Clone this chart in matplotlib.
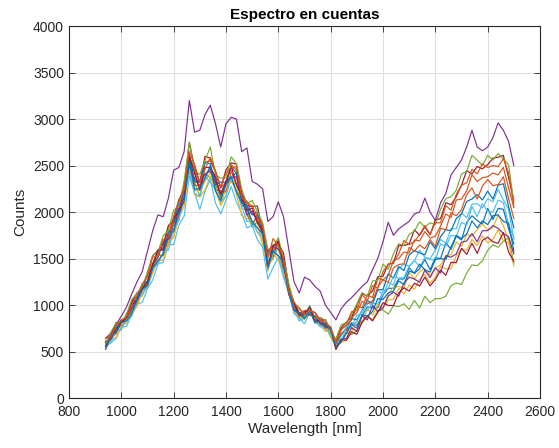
import matplotlib
matplotlib.use("Agg")
import matplotlib.pyplot as plt
from cycler import cycler

# wavelength grid shared by all spectra (nm)
wavelength = list(range(940, 2501, 20))

s01 = [594, 647, 756, 780, 862, 933, 1068, 1210, 1231, 1410, 1570, 1620, 1650, 1880, 2030, 2190, 2570, 2340, 2290, 2390,
       2470, 2360, 2150, 2340, 2380, 2420, 2070, 2050, 1860, 1970, 1790, 1480, 1520, 1700, 1380,
       1172, 994, 874, 876, 938, 874, 812, 806, 700,
       582, 608, 713, 810, 780, 880, 980, 970, 970, 1110, 1180, 1180, 1280, 1280, 1400, 1340, 1390, 1490, 1380, 1510,
       1500, 1670, 1600, 1740, 1700, 1890, 1960, 1910, 1870, 2040, 1920, 2040, 2030, 1820, 1660]
s02 = [570, 689, 766, 768, 902, 1021, 1094, 1170, 1329, 1415, 1590, 1615, 1840, 1900, 2030, 2310, 2610, 2440, 2250, 2540,
       2550, 2430, 2260, 2320, 2510, 2450, 2130, 2120, 1980, 1940, 1870, 1510, 1650, 1630, 1500,
       1144, 1030, 913, 942, 942, 850, 864, 806, 698,
       632, 741, 784, 840, 990, 970, 1110, 1080, 1290, 1270, 1320, 1480, 1500, 1570, 1560, 1700, 1690, 1790, 1720, 1740,
       1850, 1980, 1940, 2130, 2140, 2230, 2400, 2330, 2370, 2380, 2420, 2400, 2480, 2260, 2050]
s03 = [536, 648, 687, 806, 799, 930, 1064, 1095, 1242, 1340, 1545, 1530, 1690, 1725, 1970, 2185, 2470, 2230, 2240, 2330,
       2425, 2270, 2095, 2240, 2330, 2300, 2035, 2020, 1840, 1880, 1640, 1455, 1580, 1530, 1380,
       1172, 948, 849, 871, 955, 821, 823, 747, 746,
       524, 610, 714, 710, 820, 810, 960, 890, 1010, 960, 1120, 1190, 1200, 1180, 1350, 1280, 1360, 1390, 1320, 1400,
       1430, 1530, 1540, 1680, 1630, 1760, 1740, 1810, 1870, 1810, 1830, 1970, 1850, 1700, 1560]
s04 = [640, 700, 790, 880, 980, 1120, 1250, 1360, 1580, 1800, 1970, 1950, 2150, 2450, 2480, 2650, 3200, 2860, 2880, 3050,
       3150, 2950, 2700, 2950, 3020, 3000, 2650, 2690, 2330, 2300, 2250, 1900, 1950, 2110, 1950,
       1600, 1250, 1130, 1300, 1270, 1200, 1150, 1000, 920,
       840, 960, 1030, 1080, 1140, 1200, 1250, 1380, 1500, 1680, 1890, 1750, 1820, 1860, 1900, 1980, 2000, 2150, 2000, 1910,
       2100, 2200, 2400, 2480, 2560, 2700, 2880, 2700, 2660, 2700, 2800, 2960, 2880, 2760, 2500]
s05 = [600, 628, 727, 733, 869, 934, 1092, 1117, 1215, 1380, 1540, 1530, 1725, 1790, 1920, 2220, 2500, 2320, 2170, 2410,
       2370, 2300, 2160, 2320, 2340, 2230, 2130, 1990, 1840, 1900, 1780, 1430, 1500, 1630, 1370,
       1148, 924, 916, 860, 896, 870, 788, 772, 658,
       564, 594, 702, 682, 725, 807, 885, 838, 941, 946, 902, 992, 983, 1014, 952, 1051, 968, 1095, 1026, 1069,
       1069, 1095, 1208, 1237, 1221, 1344, 1432, 1423, 1475, 1588, 1649, 1621, 1688, 1722, 1450]
s06 = [565, 594, 640, 761, 772, 892, 1009, 1029, 1176, 1270, 1440, 1460, 1650, 1650, 1860, 1955, 2385, 2210, 2030, 2225,
       2350, 2095, 1980, 2125, 2275, 2105, 1990, 1830, 1855, 1705, 1620, 1280, 1405, 1510, 1295,
       1122, 906, 866, 798, 918, 860, 784, 720, 726,
       572, 667, 764, 764, 890, 900, 1025, 1000, 1170, 1100, 1245, 1215, 1390, 1440, 1415, 1475, 1590, 1515, 1500, 1590,
       1705, 1665, 1820, 1820, 1990, 1940, 2085, 2090, 2045, 2145, 2110, 2245, 2130, 2030, 1710]
s07 = [640, 668, 812, 812, 875, 1034, 1131, 1178, 1347, 1530, 1585, 1650, 1855, 1915, 2130, 2250, 2750, 2470, 2320, 2600,
       2580, 2435, 2260, 2455, 2530, 2515, 2205, 2070, 2060, 2065, 1790, 1575, 1640, 1660, 1560,
       1194, 1032, 906, 928, 934, 920, 838, 842, 722,
       600, 754, 816, 868, 1000, 1120, 1100, 1150, 1305, 1310, 1440, 1450, 1640, 1640, 1655, 1810, 1750, 1840, 1755, 1915,
       1930, 2100, 2080, 2165, 2290, 2445, 2410, 2490, 2465, 2510, 2580, 2590, 2610, 2370, 2130]
s08 = [578, 629, 751, 835, 851, 998, 1072, 1221, 1259, 1430, 1590, 1600, 1785, 1865, 2110, 2205, 2620, 2325, 2325, 2530,
       2520, 2295, 2325, 2315, 2490, 2415, 2115, 2070, 1970, 2000, 1765, 1560, 1560, 1675, 1390,
       1183, 1020, 886, 884, 992, 858, 794, 796, 760,
       576, 688, 742, 856, 840, 945, 1050, 1015, 1165, 1165, 1335, 1290, 1415, 1370, 1540, 1585, 1560, 1540, 1680, 1605,
       1735, 1810, 1800, 1930, 1980, 2115, 2140, 2190, 2130, 2225, 2140, 2290, 2305, 2060, 1830]
s09 = [611, 645, 696, 810, 838, 962, 1018, 1174, 1249, 1455, 1475, 1555, 1725, 1880, 1920, 2210, 2515, 2285, 2290, 2395,
       2475, 2235, 2230, 2215, 2445, 2285, 2180, 1970, 1880, 1940, 1750, 1385, 1585, 1665, 1405,
       1110, 994, 872, 888, 894, 886, 810, 746, 745,
       598, 692, 733, 864, 915, 1040, 1010, 1045, 1190, 1270, 1245, 1400, 1435, 1445, 1620, 1580, 1645, 1605, 1705, 1630,
       1825, 1810, 1995, 1960, 2025, 2190, 2260, 2140, 2280, 2350, 2285, 2295, 2380, 2145, 1930]
s10 = [526, 626, 653, 768, 845, 904, 985, 1136, 1187, 1350, 1485, 1480, 1655, 1740, 1940, 2060, 2490, 2185, 2160, 2240,
       2385, 2235, 2070, 2175, 2370, 2195, 1965, 1930, 1900, 1785, 1700, 1365, 1560, 1480, 1360,
       1134, 920, 882, 843, 952, 811, 806, 718, 718,
       570, 599, 620, 756, 725, 830, 875, 835, 940, 965, 1055, 1060, 1180, 1120, 1215, 1170, 1275, 1330, 1235, 1300,
       1415, 1390, 1390, 1530, 1605, 1590, 1705, 1640, 1745, 1670, 1705, 1810, 1690, 1670, 1420]
s11 = [603, 628, 711, 821, 864, 967, 1056, 1168, 1244, 1440, 1510, 1680, 1710, 1790, 2050, 2200, 2500, 2360, 2320, 2410,
       2440, 2330, 2200, 2320, 2370, 2380, 2140, 1970, 2010, 1890, 1790, 1390, 1630, 1600, 1510,
       1122, 960, 901, 915, 899, 883, 803, 761, 751,
       549, 632, 641, 758, 715, 885, 840, 995, 930, 970, 1095, 1140, 1095, 1235, 1300, 1280, 1245, 1375, 1295, 1400,
       1345, 1530, 1515, 1550, 1675, 1690, 1770, 1680, 1800, 1800, 1855, 1825, 1770, 1735, 1550]
s12 = [573, 708, 805, 811, 904, 1062, 1123, 1194, 1351, 1535, 1570, 1745, 1805, 2020, 2060, 2330, 2755, 2440, 2405, 2555,
       2700, 2400, 2365, 2370, 2595, 2520, 2250, 2090, 2125, 2005, 1885, 1600, 1615, 1725, 1495,
       1234, 1012, 976, 885, 987, 853, 868, 835, 721,
       634, 787, 813, 899, 1010, 1135, 1095, 1260, 1265, 1440, 1385, 1555, 1660, 1640, 1760, 1795, 1895, 1840, 1885, 1865,
       2030, 2145, 2165, 2235, 2410, 2440, 2610, 2560, 2500, 2610, 2560, 2630, 2570, 2510, 2100]
s13 = [549, 595, 724, 742, 843, 884, 1061, 1115, 1196, 1395, 1440, 1575, 1590, 1815, 1910, 2180, 2430, 2205, 2170, 2385,
       2320, 2240, 2110, 2170, 2385, 2225, 2065, 1900, 1900, 1785, 1740, 1390, 1585, 1525, 1325,
       1134, 951, 828, 862, 946, 824, 765, 779, 682,
       593, 609, 766, 785, 820, 945, 940, 1020, 1010, 1150, 1180, 1310, 1290, 1295, 1420, 1480, 1410, 1510, 1490, 1480,
       1660, 1630, 1750, 1740, 1890, 1860, 2060, 1950, 2090, 2010, 2000, 2130, 2100, 1870, 1720]
s14 = [554, 656, 728, 819, 857, 1001, 1055, 1177, 1248, 1440, 1590, 1590, 1740, 1935, 2005, 2155, 2600, 2420, 2235, 2480,
       2480, 2380, 2185, 2320, 2490, 2300, 2175, 2015, 2045, 1895, 1790, 1415, 1630, 1685, 1440,
       1130, 1021, 887, 902, 974, 829, 831, 778, 749,
       522, 631, 620, 712, 685, 815, 885, 830, 920, 1025, 995, 995, 1130, 1185, 1150, 1235, 1205, 1300, 1205, 1275,
       1375, 1320, 1460, 1455, 1610, 1545, 1665, 1555, 1695, 1730, 1680, 1665, 1780, 1570, 1470]
s15 = [523, 664, 709, 817, 827, 910, 1056, 1165, 1209, 1400, 1470, 1550, 1755, 1805, 1980, 2115, 2540, 2245, 2255, 2360,
       2500, 2225, 2125, 2295, 2380, 2215, 2105, 2040, 1900, 1830, 1765, 1410, 1580, 1530, 1460,
       1135, 941, 915, 853, 937, 808, 829, 764, 752,
       547, 605, 696, 795, 750, 895, 880, 930, 1070, 1060, 1130, 1150, 1260, 1220, 1365, 1345, 1440, 1380, 1355, 1490,
       1500, 1490, 1625, 1750, 1715, 1765, 1905, 1830, 1905, 1865, 1960, 1970, 1900, 1880, 1580]
s16 = [641, 657, 772, 844, 859, 1006, 1103, 1229, 1302, 1515, 1530, 1705, 1730, 1955, 2130, 2250, 2650, 2515, 2320, 2465,
       2590, 2440, 2270, 2420, 2485, 2485, 2155, 2100, 2070, 1950, 1850, 1510, 1715, 1645, 1500,
       1148, 1028, 955, 899, 935, 921, 827, 812, 764,
       589, 731, 788, 929, 940, 1110, 1045, 1210, 1180, 1360, 1440, 1455, 1550, 1695, 1650, 1680, 1760, 1855, 1760, 1885,
       1885, 2070, 2020, 2190, 2290, 2315, 2460, 2410, 2520, 2480, 2500, 2490, 2575, 2420, 2060]

spectra = [s01, s02, s03, s04, s05, s06, s07, s08, s09, s10, s11, s12, s13, s14, s15, s16]

# default MATLAB line colour order
matlab_colors = ['#0072BD', '#D95319', '#EDB120', '#7E2F8E', '#77AC30', '#4DBEEE', '#A2142F']

plt.rcParams.update({
    'font.family': ['Liberation Sans', 'DejaVu Sans'],
    'font.size': 10,
    'axes.prop_cycle': cycler(color=matlab_colors),
})

fig = plt.figure(figsize=(5.59, 4.48), dpi=100)
ax = fig.add_axes([0.1234, 0.1116, 0.8426, 0.830])

for s in spectra:
    ax.plot(wavelength, s, linewidth=0.85)

ax.set_xlim(800, 2600)
ax.set_ylim(0, 4000)
ax.set_xticks(range(800, 2601, 200))
ax.set_yticks(range(0, 4001, 500))
ax.grid(True, color='#DFDFDF', linewidth=0.8)
ax.set_axisbelow(True)

for sp in ax.spines.values():
    sp.set_color('#262626')
    sp.set_linewidth(0.8)
ax.tick_params(direction='in', length=4, width=0.6, colors='#262626', labelcolor='#262626',
               top=True, right=True, labelsize=10)
ax.tick_params(axis='x', pad=5)

ax.set_title('Espectro en cuentas', fontsize=11, fontweight='bold', color='black', pad=5)
ax.set_xlabel('Wavelength [nm]', fontsize=11, color='#262626', labelpad=2)
ax.set_ylabel('Counts', fontsize=11, color='#262626')

fig.savefig('out.png', dpi=100)
